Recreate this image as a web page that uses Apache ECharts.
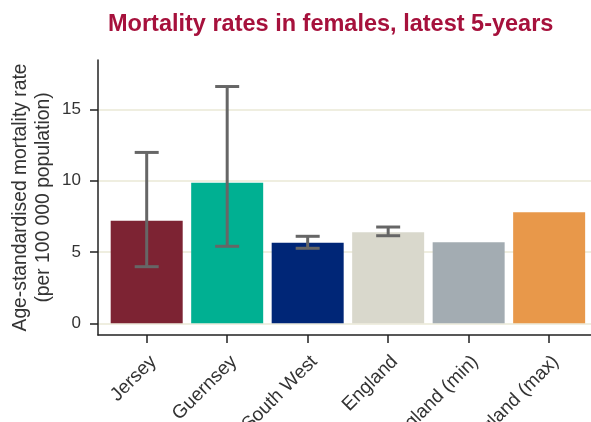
<!DOCTYPE html>
<html>
<head>
<meta charset="utf-8">
<script src="https://cdn.jsdelivr.net/npm/echarts@6/dist/echarts.min.js"></script>
<style>
  html, body { margin: 0; padding: 0; background: #fff; }
  #chart { width: 591px; height: 422px; }
</style>
</head>
<body>
<div id="chart"></div>
<script>
// values
const categories = ['Jersey', 'Guernsey', 'South West', 'England', 'England (min)', 'England (max)']
const rates = [7.19, 9.85, 5.65, 6.38, 5.68, 7.78]
const lower = [3.97, 5.4, 5.26, 6.14, null, null]
const upper = [11.98, 16.6, 6.1, 6.75, null, null]
const barColors = ['#7d2333', '#00b092', '#002677', '#d9d8cc', '#a3acb2', '#e8984a']
const yTicks = [0, 5, 10, 15]
const xTicks = categories.map((c, i) => i)

const font = '"Liberation Sans", Arial, sans-serif'
const chart = echarts.init(document.getElementById('chart'))

chart.setOption({
  animation: false,
  title: {
    text: 'Mortality rates in females, latest 5-years',
    left: 103,
    top: 8,
    textStyle: { color: '#a6113c', fontSize: 23.5, fontWeight: 'bold', fontFamily: font },
  },
  grid: { left: 98, right: 0, top: 60, bottom: 87, outerBoundsMode: 'none', containLabel: false },
  xAxis: {
    type: 'value',
    min: -0.605,
    max: 5.52,
    splitLine: { show: false },
    axisLine: { show: true, onZero: false, lineStyle: { color: '#222', width: 1.5 } },
    axisTick: { show: true, length: 8, customValues: xTicks, lineStyle: { color: '#222', width: 1.5 } },
    axisLabel: {
      customValues: xTicks,
      formatter: v => categories[v],
      rotate: 45,
      verticalAlign: 'top',
      margin: 17,
      fontSize: 19,
      color: '#333',
      fontFamily: font,
    },
  },
  yAxis: {
    type: 'value',
    min: -0.82,
    max: 18.46,
    name: 'Age-standardised mortality rate\n(per 100 000 population)',
    nameLocation: 'middle',
    nameRotate: 90,
    nameGap: 43,
    nameMoveOverlap: false,
    nameTextStyle: { fontSize: 19.3, color: '#333', fontFamily: font, lineHeight: 23 },
    axisLine: { show: true, onZero: false, lineStyle: { color: '#222', width: 1.5 } },
    axisTick: { show: true, length: 8, customValues: yTicks, lineStyle: { color: '#222', width: 1.5 } },
    axisLabel: { customValues: yTicks, margin: 17, fontSize: 17, color: '#333', fontFamily: font },
    splitLine: { show: true, customValues: yTicks, lineStyle: { color: '#eae8d6', width: 1.5 } },
  },
  series: [
    {
      type: 'bar',
      barWidth: 72,
      data: rates.map((v, i) => ({ value: [i, v], itemStyle: { color: barColors[i] } })),
    },
    {
      type: 'custom',
      z: 5,
      data: categories.map((c, i) => [i, lower[i], upper[i]]).filter(d => d[1] != null),
      renderItem(params, api) {
        const lo = api.coord([api.value(0), api.value(1)])
        const hi = api.coord([api.value(0), api.value(2)])
        const w = 12
        const style = { stroke: '#666', lineWidth: 3 }
        return {
          type: 'group',
          children: [
            { type: 'line', shape: { x1: lo[0], y1: lo[1], x2: hi[0], y2: hi[1] }, style },
            { type: 'line', shape: { x1: hi[0] - w, y1: hi[1], x2: hi[0] + w, y2: hi[1] }, style },
            { type: 'line', shape: { x1: lo[0] - w, y1: lo[1], x2: lo[0] + w, y2: lo[1] }, style },
          ],
        }
      },
    },
  ],
})
</script>
</body>
</html>
